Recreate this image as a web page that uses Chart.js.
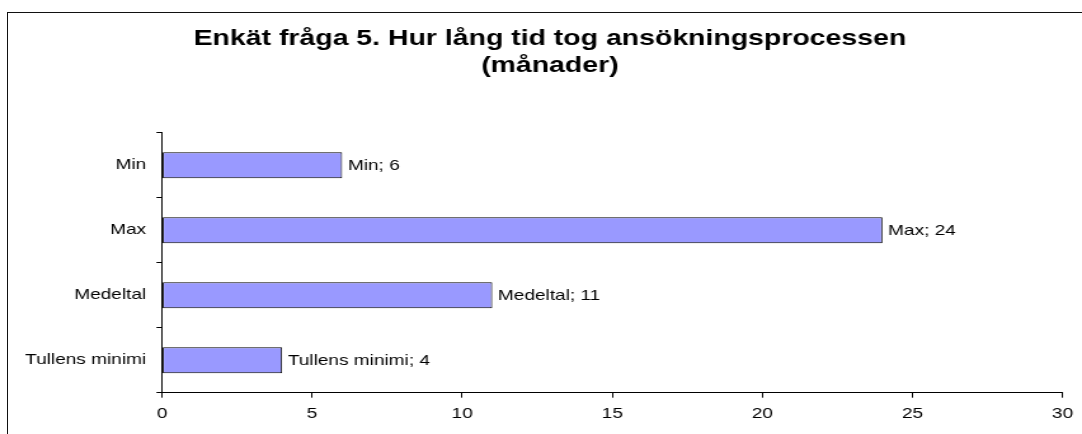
<!DOCTYPE html>
<html>
<head>
<meta charset="utf-8">
<script src="https://cdn.jsdelivr.net/npm/chart.js@4/dist/chart.umd.min.js"></script>
<style>
  html, body { margin: 0; padding: 0; background: #fff; overflow: hidden; width: 1082px; height: 434px; }
  #frame { position: absolute; left: 7px; top: 12px; width: 2000px; height: 2000px; border: 1px solid #111; }
  #wrap { position: absolute; left: 0; top: 0; width: 852px; height: 434px; transform: scaleX(1.26995); transform-origin: 0 0; }
</style>
</head>
<body>
<div id="frame"></div>
<div id="wrap"><canvas id="c" width="852" height="434"></canvas></div>
<script>
const titleLines = ['Enkät fråga 5. Hur lång tid tog ansökningsprocessen', '(månader)'];
const categories = ['Min', 'Max', 'Medeltal', 'Tullens minimi'];
const values = [6, 24, 11, 4];
const xTicks = [0, 5, 10, 15, 20, 25, 30];

const FONT = "'Liberation Sans', Arial, sans-serif";

const valueLabels = {
  id: 'valueLabels',
  afterDatasetsDraw(chart) {
    const ctx = chart.ctx;
    const meta = chart.getDatasetMeta(0);
    ctx.save();
    ctx.font = '15px ' + FONT;
    ctx.fillStyle = '#000';
    ctx.textAlign = 'left';
    ctx.textBaseline = 'middle';
    meta.data.forEach((bar, i) => {
      ctx.fillText(categories[i] + '; ' + values[i], bar.x + 4.5, bar.y + 0.5);
    });
    ctx.restore();
  }
};

new Chart(document.getElementById('c'), {
  type: 'bar',
  data: {
    labels: categories,
    datasets: [{
      data: values,
      backgroundColor: '#9999FF',
      borderColor: '#000',
      borderWidth: 1,
      borderSkipped: false,
      categoryPercentage: 1,
      barPercentage: 0.4
    }]
  },
  options: {
    indexAxis: 'y',
    responsive: false,
    animation: false,
    devicePixelRatio: 1,
    layout: { padding: { left: 25.8, right: 11.8, top: 0, bottom: 0 } },
    plugins: {
      legend: { display: false },
      tooltip: { enabled: false },
      title: {
        display: true,
        text: titleLines,
        color: '#000',
        font: { family: FONT, size: 22.4, weight: 'bold', lineHeight: 1.19 },
        padding: { top: 25.8, bottom: 53.7 }
      }
    },
    scales: {
      x: {
        type: 'linear',
        min: xTicks[0],
        max: xTicks[xTicks.length - 1],
        afterBuildTicks(scale) { scale.ticks = xTicks.map(v => ({ value: v })); },
        afterFit(scale) { scale.height = 41.3; },
        ticks: { color: '#000', font: { family: FONT, size: 15 }, padding: 7, maxRotation: 0 },
        grid: { display: true, drawOnChartArea: false, drawTicks: true, tickLength: 5, color: '#000', lineWidth: 1 },
        border: { display: true, color: '#000', width: 1 }
      },
      y: {
        afterFit(scale) { scale.width = 101.8; },
        afterUpdate(scale) { scale._computeLabelArea = () => undefined; },
        ticks: { color: '#000', font: { family: FONT, size: 15 }, padding: 8.1 },
        grid: { display: true, offset: true, drawOnChartArea: false, drawTicks: true, tickLength: 4.4, color: '#000', lineWidth: 1 },
        border: { display: true, color: '#000', width: 1 }
      }
    }
  },
  plugins: [valueLabels]
});
</script>
</body>
</html>
